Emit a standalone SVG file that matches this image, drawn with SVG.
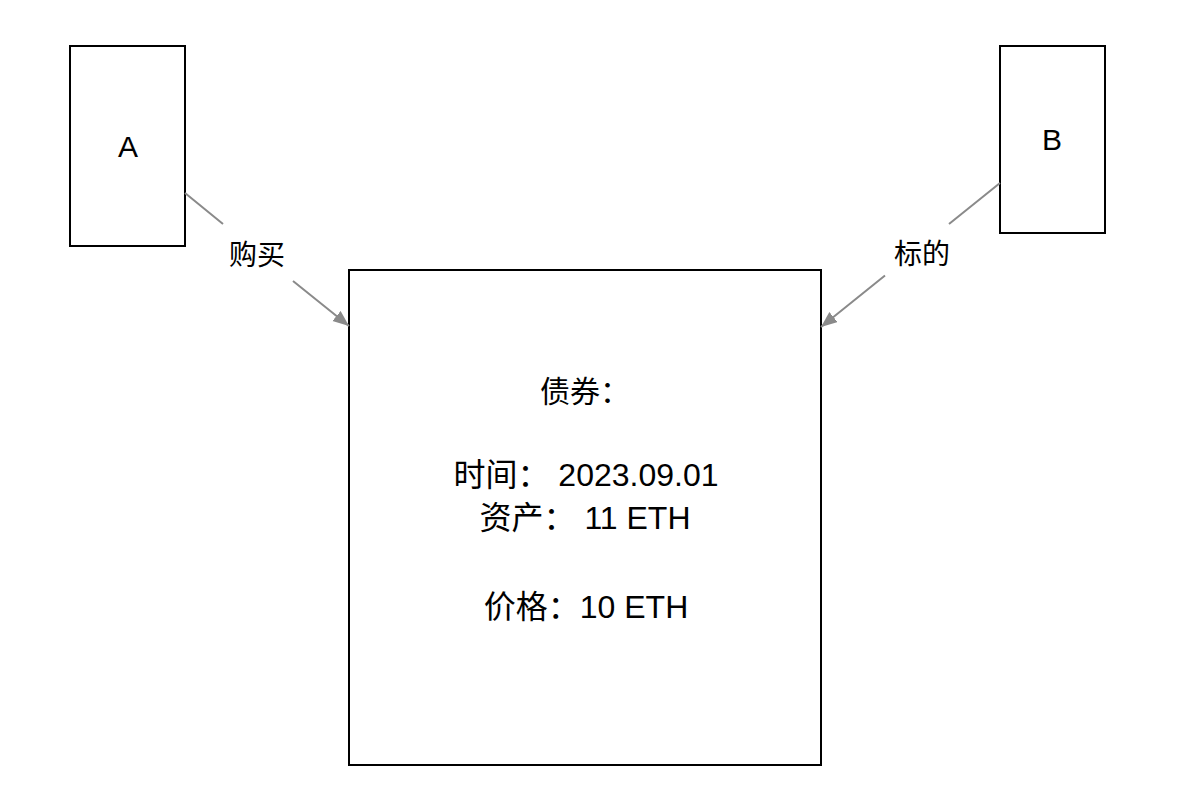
<svg xmlns="http://www.w3.org/2000/svg" width="1178" height="806" viewBox="0 0 1178 806">
<style>
.box{fill:#fff;stroke:#000;stroke-width:2}
.t{font-family:"Liberation Sans","Noto Sans CJK SC",sans-serif;font-size:30px;fill:#000;text-anchor:middle}
.m{font-size:32px}
.lbl{font-family:"Liberation Sans","Noto Sans CJK SC",sans-serif;font-size:28px;fill:#000;text-anchor:middle}
.conn{fill:none;stroke:#8a8a8a;stroke-width:2}
</style>
<defs>
<marker id="arr" markerUnits="userSpaceOnUse" markerWidth="18" markerHeight="14" refX="16" refY="6.5" orient="auto">
<path d="M0,0 L16,6.5 L0,13 Z" fill="#8a8a8a"/>
</marker>
</defs>
<rect width="1178" height="806" fill="#fff"/>
<g id="nodeA">
<rect class="box" x="70" y="46" width="115" height="200"/>
<text class="t" x="128" y="157">A</text>
</g>
<g id="nodeB">
<rect class="box" x="1000" y="46" width="105" height="187"/>
<text class="t" x="1052" y="150">B</text>
</g>
<g id="bond">
<rect class="box" x="349" y="270" width="472" height="495"/>
<text class="t" x="585" y="402" font-size="31">债券：</text>
<text class="t m" x="586" y="486">时间： 2023.09.01</text>
<text class="t m" x="585" y="529">资产： 11 ETH</text>
<text class="t m" x="586" y="618">价格：10 ETH</text>
</g>
<g id="connectors">
<path class="conn" d="M185,193 L223,224 M293,281 L349,326" marker-end="url(#arr)"/>
<text class="lbl" x="257" y="265">购买</text>
<path class="conn" d="M1000,183 L949,224 M885,275.5 L821,327" marker-end="url(#arr)"/>
<text class="lbl" x="922" y="264">标的</text>
</g>
</svg>
